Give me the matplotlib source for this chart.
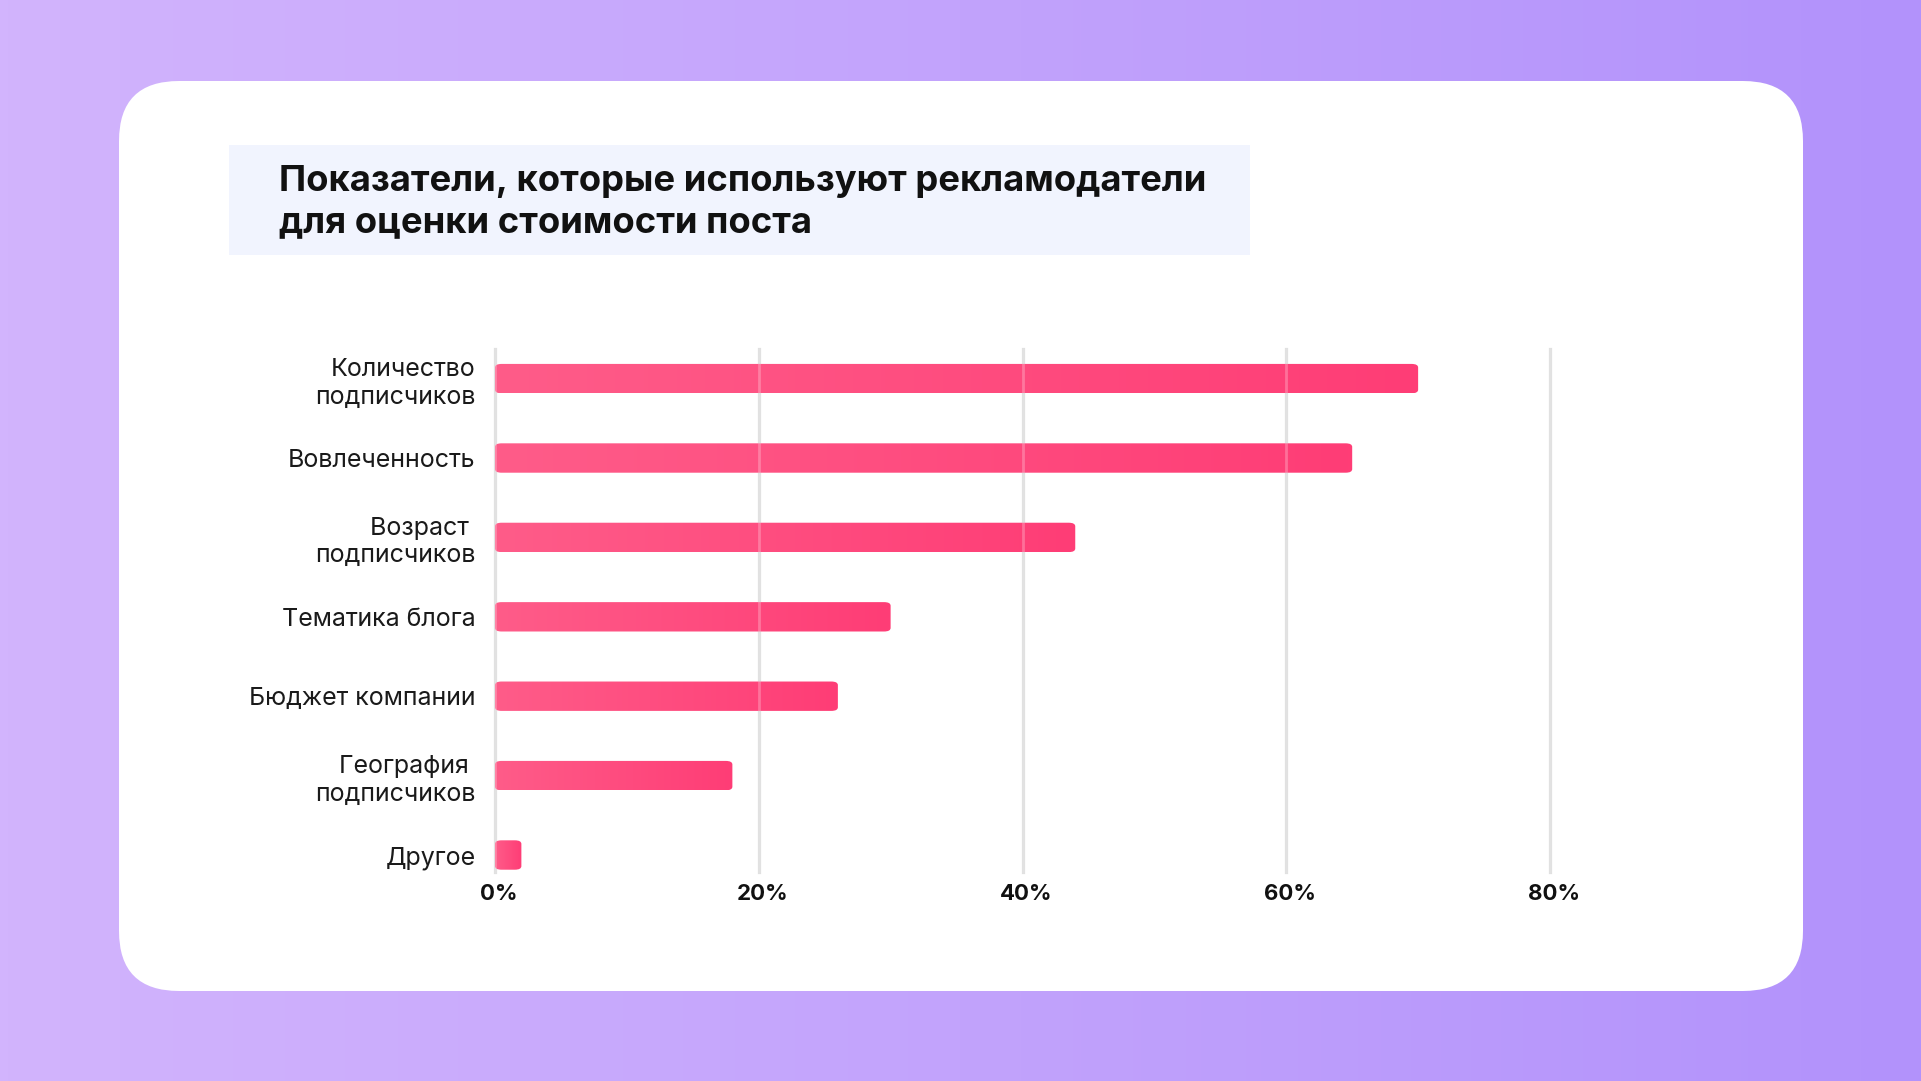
import numpy as np
import matplotlib.pyplot as plt
from matplotlib.patches import FancyBboxPatch
from matplotlib.colors import LinearSegmentedColormap
from matplotlib.transforms import ScaledTranslation

#---Data---#
categories = ['Количество\nподписчиков', 'Вовлеченность', 'Возраст \nподписчиков',
              'Тематика блога', 'Бюджет компании', 'География \nподписчиков', 'Другое']
values = [70, 65, 44, 30, 26, 18, 2]
x_ticks = [0, 20, 40, 60, 80]
x_tick_labels = ['0%', '20%', '40%', '60%', '80%']
title = 'Показатели, которые используют рекламодатели\nдля оценки стоимости поста'

W, H = 1921, 1081
fig = plt.figure(figsize=(W / 100, H / 100), dpi=100)

#---background: purple gradient + white card---#
bg = fig.add_axes([0, 0, 1, 1])
bg.set_xlim(0, W)
bg.set_ylim(H, 0)
bg.axis('off')
bg_cmap = LinearSegmentedColormap.from_list('bg', ['#d2b4fd', '#b292fb'])
bg.imshow(np.linspace(0, 1, 256).reshape(1, -1), cmap=bg_cmap, aspect='auto',
          extent=[0, W, H, 0], zorder=0)
card = FancyBboxPatch((119 + 60, 81 + 60), 1803 - 119 - 120, 991 - 81 - 120,
                      boxstyle='round,pad=60', fc='white', ec='none', zorder=1)
bg.add_patch(card)
bg.add_patch(plt.Rectangle((229, 145), 1250 - 229, 255 - 145, fc='#f1f4fe', ec='none', zorder=2))
bg.text(279, 202, title, fontsize=26.2, fontweight='bold', family='Inter', color='#111111',
        va='center', ha='left', linespacing=1.3, zorder=3)

#---chart axes---#
x0, x80 = 495, 1550
top, bottom = 349, 872
ax = fig.add_axes([x0 / W, 1 - bottom / H, (x80 - x0) / W, (bottom - top) / H])
ax.set_facecolor('none')
ypos = np.arange(len(categories))

for s in ax.spines.values():
    s.set_visible(False)

# gridlines below bars, and faint copy on top
for t in x_ticks:
    ax.axvline(t, color='#d9d9d9', lw=2.3, zorder=1, clip_on=False)
    ax.axvline(t, color='#ffffff', lw=2.0, alpha=0.25, zorder=4, clip_on=False)

bar_cmap = LinearSegmentedColormap.from_list('bar', ['#fe5c89', '#ff3d76'])
bars = ax.barh(ypos, values, height=0.37, color='none')
for b in bars:
    x, y, w, h = b.get_x(), b.get_y(), b.get_width(), b.get_height()
    patch = FancyBboxPatch((x, y), w, h, boxstyle='round,pad=0,rounding_size=0.5',
                           mutation_aspect=0.09, fc='none', ec='none', zorder=2)
    ax.add_patch(patch)
    im = ax.imshow(np.linspace(0, 1, 256).reshape(1, -1), cmap=bar_cmap, aspect='auto',
                   extent=[x, x + w, y + h, y], zorder=2, interpolation='bilinear')
    im.set_clip_path(patch)
ax.set_xlim(0, 80)
ax.set_ylim(len(categories) - 1 + 0.214, -0.373)

ax.set_yticks(ypos)
ax.set_yticklabels(categories, fontsize=18, family='Inter', color='#1a1a1a',
                   multialignment='right', linespacing=1.25)
ax.set_xticks(x_ticks)
ax.set_xticklabels(x_tick_labels, fontsize=16, fontweight='bold', family='Inter', color='#111111')
ax.tick_params(axis='y', length=0, pad=14)
ax.tick_params(axis='x', length=0, pad=9)
# shift x tick labels a touch right, as in the reference
for lbl in ax.get_xticklabels():
    lbl.set_transform(lbl.get_transform() + ScaledTranslation(4 / 100, 0, fig.dpi_scale_trans))
ax.grid(False)

fig.savefig('out.png', dpi=100)
